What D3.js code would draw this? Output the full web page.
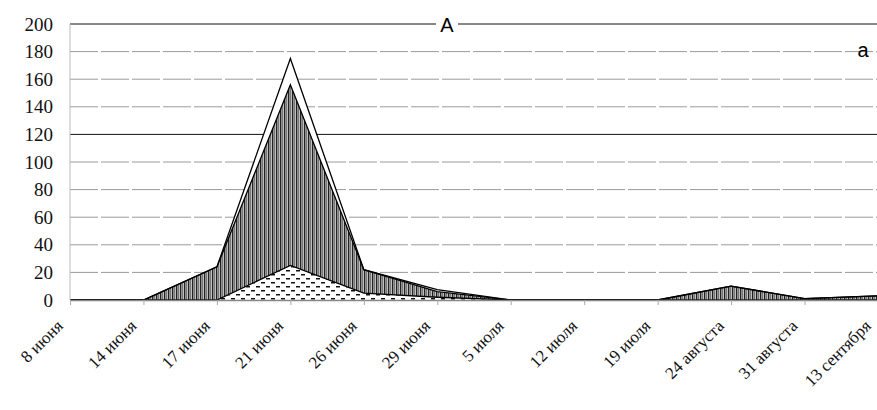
<!DOCTYPE html>
<html lang="ru">
<head>
    <meta charset="UTF-8">
    <title>A</title>
    <script src="https://d3js.org/d3.v7.min.js"></script>
    <style>
        body {
            margin: 0;
            padding: 0;
            background: #fff;
        }
        svg { display: block; }
        svg text.serif { font-family: "Liberation Serif", "DejaVu Serif", "Times New Roman", serif; }
        svg text.sans { font-family: "Liberation Sans", Arial, sans-serif; }
    </style>
</head>
<body>
    <script>
        // Даты (категории)
        const dates = ["8 июня", "14 июня", "17 июня", "21 июня", "26 июня", "29 июня",
            "5 июля", "12 июля", "19 июля", "24 августа", "31 августа", "13 сентября"];

        // Ряды (снизу вверх)
        const dotted = [0, 0, 0, 25, 5, 2, 0, 0, 0, 0, 0, 0];
        const striped = [0, 0, 24, 131, 17, 4, 0, 0, 0, 10, 1, 3];
        const white = [0, 0, 0, 19, 0, 1.5, 0, 0, 0, 0, 0, 0];

        const yTicks = [0, 20, 40, 60, 80, 100, 120, 140, 160, 180, 200];

        const width = 877, height = 410;
        const margin = { left: 70, right: -1, top: 24, bottom: 110 };

        const svg = d3.select("body").append("svg")
            .attr("width", width)
            .attr("height", height);

        const x = d3.scalePoint()
            .domain(dates)
            .range([margin.left, width - margin.right])
            .padding(0);

        const y = d3.scaleLinear()
            .domain([0, 200])
            .range([height - margin.bottom, margin.top]);

        // Штриховки
        const defs = svg.append("defs");
        const pStripe = defs.append("pattern")
            .attr("id", "stripes")
            .attr("patternUnits", "userSpaceOnUse")
            .attr("width", 4).attr("height", 10);
        pStripe.append("rect").attr("width", 4).attr("height", 10).attr("fill", "#c0c0c0");
        pStripe.append("rect").attr("x", 0).attr("width", 1.3).attr("height", 10).attr("fill", "#222");
        pStripe.append("rect").attr("x", 2.2).attr("width", 0.8).attr("height", 10).attr("fill", "#666");

        const pDot = defs.append("pattern")
            .attr("id", "dots")
            .attr("patternUnits", "userSpaceOnUse")
            .attr("width", 10).attr("height", 8);
        pDot.append("rect").attr("width", 10).attr("height", 8).attr("fill", "#fff");
        pDot.append("rect").attr("x", 1).attr("y", 2).attr("width", 4).attr("height", 1.5).attr("fill", "#111");
        pDot.append("rect").attr("x", 6).attr("y", 6).attr("width", 4).attr("height", 1.5).attr("fill", "#111");

        // Сетка
        const darkLines = [120, 200];
        svg.append("g")
            .selectAll("line")
            .data(yTicks.filter(d => d > 0))
            .join("line")
            .attr("x1", margin.left)
            .attr("x2", width)
            .attr("y1", d => y(d))
            .attr("y2", d => y(d))
            .attr("stroke", d => darkLines.includes(d) ? "#111" : "#9a9a9a")
            .attr("stroke-width", 1)
            .attr("stroke-dasharray", d => darkLines.includes(d) ? null : "28,3");

        // Данные для стека
        const table = dates.map((d, i) => ({ date: d, dotted: dotted[i], striped: striped[i], white: white[i] }));
        const stack = d3.stack().keys(["dotted", "striped", "white"]);
        const series = stack(table);

        const area = d3.area()
            .x(d => x(d.data.date))
            .y0(d => y(d[0]))
            .y1(d => y(d[1]));

        const line = d3.line()
            .x(d => x(d.data.date))
            .y(d => y(d[1]));

        const fills = { dotted: "url(#dots)", striped: "url(#stripes)", white: "#fff" };

        const g = svg.append("g");
        g.selectAll("path.area")
            .data(series)
            .join("path")
            .attr("class", "area")
            .attr("d", area)
            .attr("fill", d => fills[d.key]);

        g.selectAll("path.top")
            .data(series)
            .join("path")
            .attr("class", "top")
            .attr("d", line)
            .attr("fill", "none")
            .attr("stroke", "#000")
            .attr("stroke-width", 1.3);

        // Оси
        svg.append("line")
            .attr("x1", margin.left).attr("x2", margin.left)
            .attr("y1", y(200)).attr("y2", y(0))
            .attr("stroke", "#bbb");

        const xAxis = svg.append("g")
            .attr("transform", `translate(0,${y(0)})`)
            .call(d3.axisBottom(x).tickSize(5).tickSizeOuter(0).tickFormat(""));
        xAxis.select(".domain").attr("stroke", "#888").attr("stroke-width", 1.5);
        xAxis.selectAll(".tick line").attr("stroke", "#aaa");

        svg.append("g")
            .selectAll("text")
            .data(yTicks)
            .join("text")
            .attr("class", "serif")
            .style("font-family", "'Liberation Serif', 'DejaVu Serif', serif")
            .attr("x", 53)
            .attr("y", d => y(d))
            .attr("dy", "0.35em")
            .attr("text-anchor", "end")
            .attr("font-size", 19)
            .attr("fill", "#111")
            .text(d => d);

        svg.append("g")
            .selectAll("text")
            .data(dates)
            .join("text")
            .attr("class", "serif")
            .style("font-family", "'Liberation Serif', 'DejaVu Serif', serif")
            .attr("transform", d => `translate(${Math.min(x(d) - 6, width - 2)},${y(0) + 27}) rotate(-45)`)
            .attr("text-anchor", "end")
            .attr("font-size", 17)
            .attr("fill", "#111")
            .text(d => d);

        // Заголовки
        svg.append("rect")
            .attr("x", 436).attr("y", 14).attr("width", 22).attr("height", 20)
            .attr("fill", "#fff");
        svg.append("text")
            .attr("class", "sans")
            .attr("x", 447).attr("y", 32)
            .attr("text-anchor", "middle")
            .attr("font-size", 20)
            .text("A");
        svg.append("text")
            .attr("class", "sans")
            .attr("x", 863).attr("y", 57)
            .attr("text-anchor", "middle")
            .attr("font-size", 20)
            .text("a");
    </script>
</body>
</html>
